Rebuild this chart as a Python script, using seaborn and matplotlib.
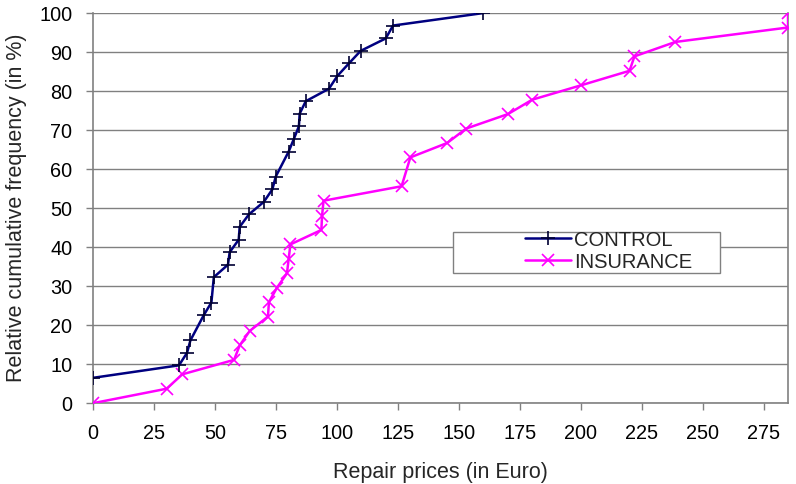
import matplotlib
matplotlib.use("Agg")
import matplotlib.pyplot as plt
from matplotlib.patches import Rectangle
import seaborn as sns
import pandas as pd

control_price = [0, 35.2, 38.5, 39.9, 45.4, 48.5, 49.5, 55.3, 56.0, 59.7, 60.1, 63.9,
                 70.0, 73.5, 74.9, 80.2, 82.3, 84.4, 84.7, 87.2, 96.7, 100.2, 104.9,
                 109.7, 120.0, 123.0, 160.0]
control_freq = [6.5, 9.7, 12.9, 16.1, 22.6, 25.8, 32.3, 35.5, 38.7, 41.9, 45.2, 48.4,
                51.6, 54.8, 58.1, 64.5, 67.7, 71.0, 74.2, 77.4, 80.6, 83.9, 87.1,
                90.3, 93.5, 96.8, 100.0]

insurance_price = [0, 30.1, 36.6, 57.8, 60.1, 64.2, 71.7, 72.1, 75.4, 79.5, 80.2, 80.9,
                   93.6, 93.9, 94.5, 126.5, 130.1, 145.2, 153.0, 170.1, 180.1, 200.2,
                   220.0, 222.0, 238.8, 285.0, 285.0]
insurance_freq = [0, 3.7, 7.4, 11.1, 14.8, 18.5, 22.2, 25.9, 29.6, 33.3, 37.0, 40.7,
                  44.4, 48.1, 51.9, 55.6, 63.0, 66.7, 70.4, 74.1, 77.8, 81.5,
                  85.2, 88.9, 92.6, 96.3, 100.0]

x_ticks = list(range(0, 276, 25))
y_ticks = list(range(0, 101, 10))

sns.set_theme(style="white")
plt.rcParams['font.family'] = ['Liberation Sans', 'DejaVu Sans']

fig = plt.figure(figsize=(7.96, 4.84), dpi=100)
ax = fig.add_axes([0.117, 0.167, 0.873, 0.806])

df_c = pd.DataFrame({"price": control_price, "freq": control_freq})
df_i = pd.DataFrame({"price": insurance_price, "freq": insurance_freq})

sns.lineplot(data=df_c, x="price", y="freq", ax=ax, sort=False, estimator=None,
             color="#000080", linewidth=1.8, marker="+", markersize=10,
             markeredgecolor="#000033", markeredgewidth=1.2, label="CONTROL", zorder=4)
sns.lineplot(data=df_i, x="price", y="freq", ax=ax, sort=False, estimator=None,
             color="#FF00FF", linewidth=1.8, marker="x", markersize=9,
             markeredgecolor="#FF00FF", markeredgewidth=1.2, label="INSURANCE", zorder=3)

ax.set_xlim(0, 285)
ax.set_ylim(0, 100)
ax.set_xticks(x_ticks)
ax.set_yticks(y_ticks)
ax.yaxis.grid(True, color="#808080", linewidth=1.0)
ax.set_axisbelow(True)
for s in ax.spines.values():
    s.set_color("#808080")
    s.set_linewidth(1.2)
ax.spines["top"].set_visible(False)
ax.tick_params(axis="both", which="both", direction="out", length=5, width=1,
               color="#808080", labelsize=14.3, labelcolor="black", bottom=True, left=True)
ax.tick_params(axis="x", pad=10)
ax.tick_params(axis="y", pad=10)
ax.set_xlabel("Repair prices (in Euro)", fontsize=15.5, labelpad=14)
ax.set_ylabel("Relative cumulative frequency (in %)", fontsize=15.5, labelpad=9)

# legend frame (Excel-style box, wider than its entries)
frame = Rectangle((0.5176, 0.333), 0.3843, 0.105, transform=ax.transAxes,
                  facecolor="white", edgecolor="#808080", linewidth=1.0, zorder=5)
ax.add_patch(frame)

leg = ax.legend(loc="center left", bbox_to_anchor=(0.621, 0.390),
                bbox_transform=ax.transAxes, frameon=False, fontsize=14.5,
                handlelength=2.3, handletextpad=0.15, borderpad=0, labelspacing=0.15,
                borderaxespad=0)
leg.set_zorder(6)

fig.savefig("out.png", dpi=100)
